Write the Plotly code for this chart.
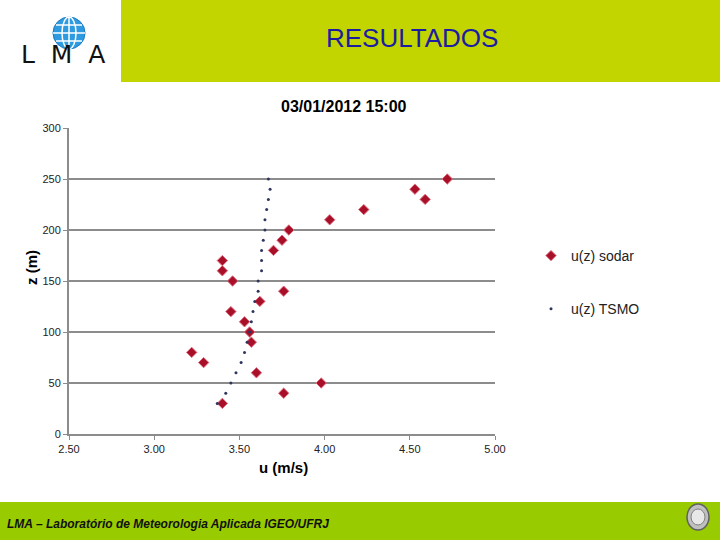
import plotly.graph_objects as go

# ---- data ----
sodar_u = [3.40, 3.76, 3.98, 3.60, 3.29, 3.22, 3.57, 3.56, 3.53, 3.45, 3.62, 3.76,
           3.46, 3.40, 3.40, 3.70, 3.75, 3.79, 4.03, 4.23, 4.59, 4.53, 4.72]
sodar_z = [30, 40, 50, 60, 70, 80, 90, 100, 110, 120, 130, 140,
           150, 160, 170, 180, 190, 200, 210, 220, 230, 240, 250]
tsmo_u = [3.37, 3.42, 3.45, 3.48, 3.51, 3.53, 3.545, 3.56, 3.57, 3.58, 3.59, 3.61,
          3.61, 3.63, 3.63, 3.63, 3.64, 3.65, 3.65, 3.66, 3.67, 3.68, 3.67]
tsmo_z = [30, 40, 50, 60, 70, 80, 90, 100, 110, 120, 130, 140,
          150, 160, 170, 180, 190, 200, 210, 220, 230, 240, 250]
x_ticks = [2.5, 3.0, 3.5, 4.0, 4.5, 5.0]
x_ticklabels = ["2.50", "3.00", "3.50", "4.00", "4.50", "5.00"]
y_ticks = [0, 50, 100, 150, 200, 250, 300]

W, H = 720, 540
L, R, T, B = 69, 495, 128, 434  # plot area in pixels
pw, ph = R - L, B - T

def px(x):
    return (x - L) / pw

def py(y):
    return (B - y) / ph

FONT = "Liberation Sans, Arial"

fig = go.Figure()
fig.add_trace(go.Scatter(
    x=sodar_u, y=sodar_z, mode="markers", name="u(z) sodar",
    marker=dict(symbol="diamond", size=8, color="#a8102a",
                line=dict(color="#e07080", width=1)),
    legendgroup="a"))
fig.add_trace(go.Scatter(
    x=tsmo_u, y=tsmo_z, mode="markers", name="u(z) TSMO",
    marker=dict(symbol="circle", size=3, color="#2e3560"),
    legendgroup="b"))

shapes = [
    dict(type="rect", xref="paper", yref="paper", x0=px(121), x1=px(720),
         y0=py(82), y1=py(0), fillcolor="#c2d500", line=dict(width=0), layer="below"),
    dict(type="rect", xref="paper", yref="paper", x0=px(0), x1=px(720),
         y0=py(540), y1=py(502), fillcolor="#99cc00", line=dict(width=0), layer="below"),
    dict(type="circle", xref="paper", yref="paper", x0=px(53), x1=px(85),
         y0=py(49), y1=py(17), fillcolor="#2e9be0", line=dict(color="#1a78c0", width=1)),
    dict(type="circle", xref="paper", yref="paper", x0=px(62), x1=px(76),
         y0=py(49), y1=py(17), line=dict(color="white", width=1.5)),
    dict(type="line", xref="paper", yref="paper", x0=px(69), x1=px(69),
         y0=py(49), y1=py(17), line=dict(color="white", width=1.5)),
    dict(type="line", xref="paper", yref="paper", x0=px(53), x1=px(85),
         y0=py(33), y1=py(33), line=dict(color="white", width=1.5)),
    dict(type="line", xref="paper", yref="paper", x0=px(56), x1=px(82),
         y0=py(25), y1=py(25), line=dict(color="white", width=1.5)),
    dict(type="line", xref="paper", yref="paper", x0=px(56), x1=px(82),
         y0=py(41), y1=py(41), line=dict(color="white", width=1.5)),
    dict(type="circle", xref="paper", yref="paper", x0=px(687), x1=px(709),
         y0=py(530), y1=py(504), fillcolor="#c0c0c0", line=dict(color="#606060", width=1.5)),
    dict(type="circle", xref="paper", yref="paper", x0=px(691), x1=px(705),
         y0=py(525), y1=py(509), fillcolor="#e8e8e8", line=dict(color="#808080", width=1)),
]

annotations = [
    dict(text="RESULTADOS", x=px(412), y=py(38), xref="paper", yref="paper",
         xanchor="center", yanchor="middle",
         showarrow=False, font=dict(family=FONT, size=26, color="#1c1ca0")),
    dict(text="L  M  A", x=px(63), y=py(55), xref="paper", yref="paper",
         xanchor="center", yanchor="middle",
         showarrow=False, font=dict(family="DejaVu Sans", size=25, color="#111111")),
    dict(text="<b><i>LMA – Laboratório de Meteorologia Aplicada IGEO/UFRJ</i></b>",
         x=px(5), y=py(524), xref="paper", yref="paper", xanchor="left", yanchor="middle",
         showarrow=False, font=dict(family=FONT, size=12, color="#111111")),
    dict(text="<b>03/01/2012 15:00</b>", x=px(344), y=py(106), xref="paper", yref="paper",
         xanchor="center", yanchor="middle",
         showarrow=False, font=dict(family=FONT, size=16, color="black")),
    dict(text="<b>u (m/s)</b>", x=px(283), y=py(467), xref="paper", yref="paper",
         xanchor="center", yanchor="middle",
         showarrow=False, font=dict(family=FONT, size=15, color="black")),
    dict(text="<b>z (m)</b>", x=px(31), y=py(268), xref="paper", yref="paper",
         xanchor="center", yanchor="middle",
         showarrow=False, textangle=-90,
         font=dict(family=FONT, size=15, color="black")),
]

fig.update_layout(
    width=W, height=H,
    margin=dict(l=L, r=W - R, t=T, b=H - B),
    paper_bgcolor="white", plot_bgcolor="white",
    shapes=shapes, annotations=annotations,
    font=dict(family=FONT, size=11, color="#222222"),
    legend=dict(x=px(531), y=py(240), xanchor="left", yanchor="top",
                tracegroupgap=32, bgcolor="rgba(0,0,0,0)",
                font=dict(family=FONT, size=14, color="#222222"),
                itemwidth=30),
    showlegend=True,
)
fig.update_xaxes(range=[2.5, 5.0], tickvals=x_ticks, ticktext=x_ticklabels,
                 showgrid=False, showline=True, linecolor="#8c8c8c", linewidth=2,
                 ticks="outside", tickcolor="#8c8c8c", ticklen=4, zeroline=False,
                 tickfont=dict(size=11, color="#222222"))
fig.update_yaxes(range=[0, 300], tickvals=y_ticks,
                 showgrid=True, gridcolor="#8c8c8c", gridwidth=2,
                 showline=True, linecolor="#8c8c8c", linewidth=2,
                 ticks="outside", tickcolor="#8c8c8c", ticklen=4, zeroline=False,
                 tickfont=dict(size=11, color="#222222"))

fig.write_html("out.html", config={"displayModeBar": False},
               post_script="document.body.style.margin='0';")
